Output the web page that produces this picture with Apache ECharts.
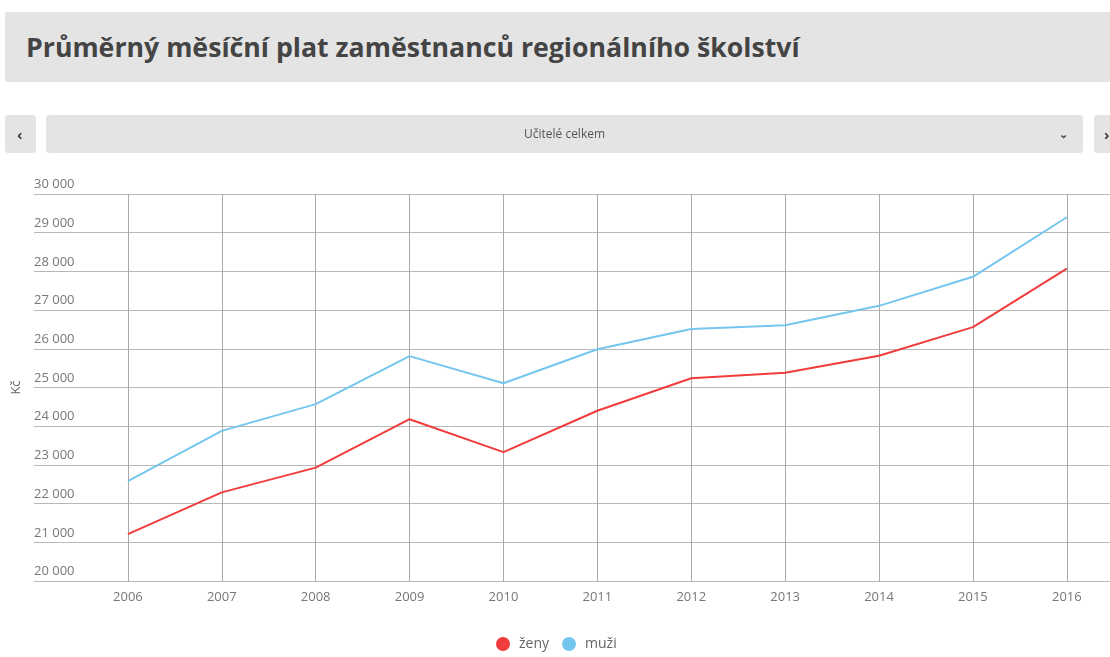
<!DOCTYPE html>
<html>
<head>
    <meta charset="utf-8">
    <title>Průměrný měsíční plat</title>
    <script src="https://cdn.jsdelivr.net/npm/echarts@6/dist/echarts.min.js"></script>
    <style>
        body { margin: 0; background: #fff; font-family: "Open Sans", sans-serif; }
        .box { position: absolute; background: #e4e4e4; border-radius: 3px; }
        #title { left: 5px; top: 12px; width: 1120px; height: 70px; }
        #title h1 { margin: 0; position: absolute; left: 21px; top: 17px; font-size: 26.7px; font-weight: 700; color: #444; line-height: 36px; }
        #prev { left: 5px; top: 115px; width: 31px; height: 38px; }
        #sel { left: 46px; top: 115px; width: 1037px; height: 38px; }
        #next { left: 1094px; top: 115px; width: 40px; height: 38px; }
        .lbl { position: absolute; font-size: 12px; color: #555; line-height: 38px; }
        #main { position: absolute; left: 0; top: 0; width: 1110px; height: 657px; }
    </style>
</head>
<body>
<div id="main"></div>
<div class="box" id="title"><h1>Průměrný měsíční plat zaměstnanců regionálního školství</h1></div>
<div class="box" id="prev"><span class="lbl" style="left:12px;font-size:15px;font-weight:700;color:#444">&#8249;</span></div>
<div class="box" id="sel">
    <span class="lbl" style="left:0;width:100%;text-align:center">Učitelé celkem</span>
    <span class="lbl" style="left:1013px;font-size:11px;font-weight:700;color:#444">&#8964;</span>
</div>
<div class="box" id="next"><span class="lbl" style="left:10px;font-size:15px;font-weight:700;color:#444">&#8250;</span></div>

<script type="text/javascript">
    // data
    var years = [2006, 2007, 2008, 2009, 2010, 2011, 2012, 2013, 2014, 2015, 2016];
    var zeny = [21210, 22290, 22930, 24180, 23330, 24400, 25240, 25380, 25820, 26560, 28070];
    var muzi = [22580, 23880, 24570, 25810, 25110, 25990, 26510, 26610, 27110, 27860, 29400];

    function pairs(vals) {
        return years.map(function (y, i) { return [y, vals[i]]; });
    }

    var myChart = echarts.init(document.getElementById('main'));
    myChart.setOption({
        animation: false,
        grid: { left: 34, right: 0, top: 194, bottom: 76 },
        legend: {
            left: 491,
            top: 632,
            icon: 'circle',
            itemWidth: 14,
            itemHeight: 14,
            itemGap: 13,
            textStyle: { fontSize: 14, color: '#666', fontFamily: 'Open Sans', padding: [0, 0, 0, 4] },
            data: ['ženy', 'muži']
        },
        xAxis: {
            type: 'value',
            min: 2005,
            max: 2016.46,
            interval: 1,
            axisLine: { show: false },
            splitLine: { show: false },
            axisTick: {
                show: true,
                inside: true,
                length: 387,
                customValues: years,
                lineStyle: { color: '#a8a8a8' }
            },
            axisLabel: {
                customValues: years,
                margin: 10,
                fontSize: 13,
                color: '#777',
                fontFamily: 'Open Sans',
                formatter: function (v) { return String(v); }
            }
        },
        yAxis: {
            type: 'value',
            min: 20000,
            max: 30000,
            interval: 1000,
            name: 'Kč',
            nameLocation: 'middle',
            nameGap: 5,
            nameRotate: 90,
            nameTextStyle: { fontSize: 13, color: '#666', fontFamily: 'Open Sans' },
            axisLine: { show: false },
            axisTick: { show: false },
            splitLine: { lineStyle: { color: '#b8b8b8' } },
            axisLabel: {
                inside: true,
                margin: 0,
                align: 'left',
                verticalAlign: 'bottom',
                padding: [0, 0, 3, 0],
                fontSize: 13,
                color: '#777',
                fontFamily: 'Open Sans',
                formatter: function (v) {
                    return String(v).replace(/\B(?=(\d{3})+(?!\d))/g, ' ');
                }
            }
        },
        series: [{
            name: 'ženy',
            type: 'line',
            data: pairs(zeny),
            showSymbol: false,
            color: '#f03c3c',
            lineStyle: { width: 2 }
        }, {
            name: 'muži',
            type: 'line',
            data: pairs(muzi),
            showSymbol: false,
            color: '#74c6ef',
            lineStyle: { width: 2 }
        }]
    });
</script>
</body>
</html>
